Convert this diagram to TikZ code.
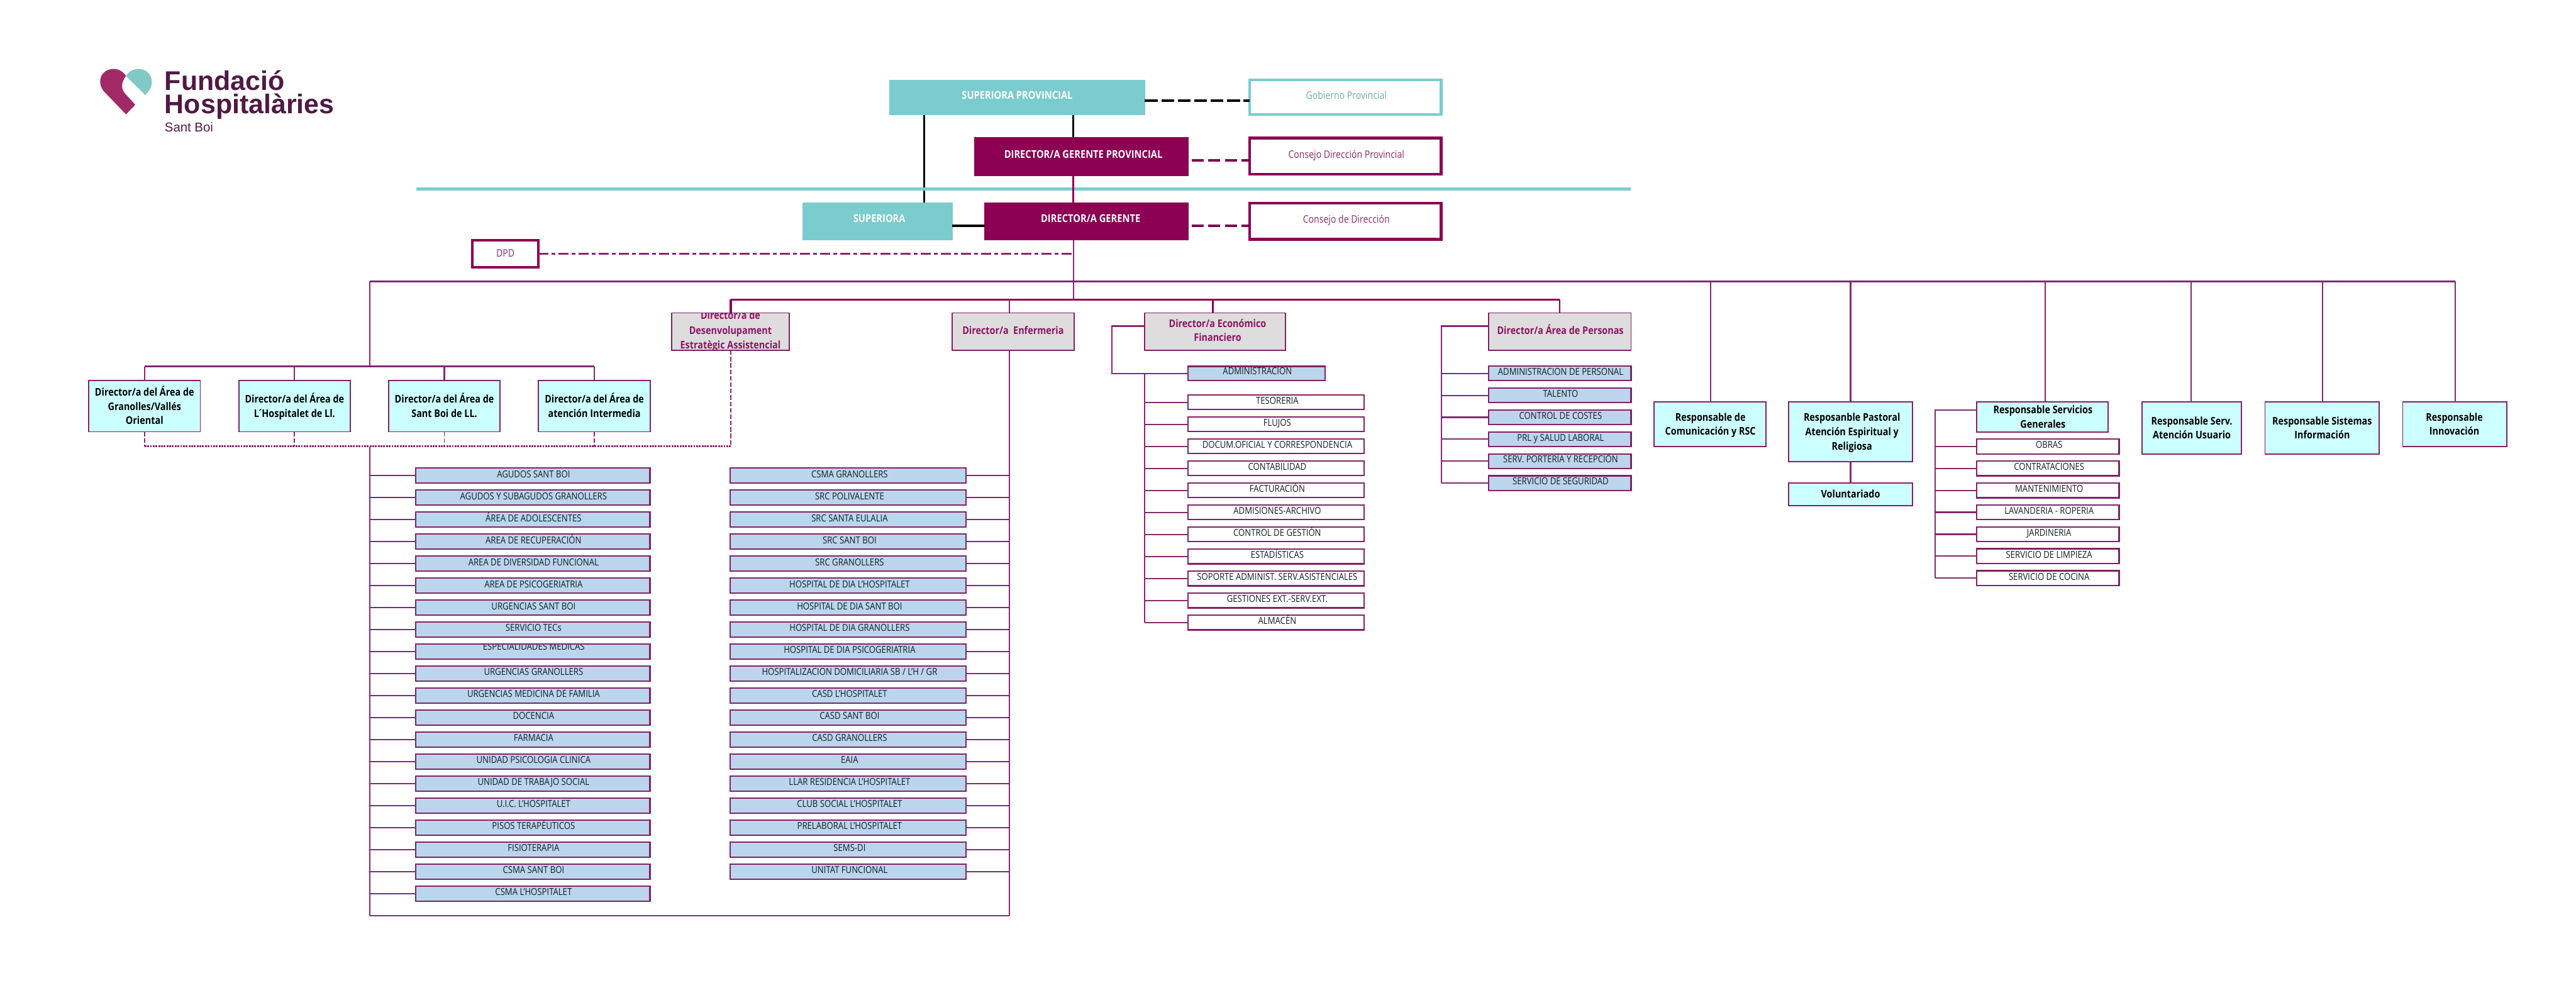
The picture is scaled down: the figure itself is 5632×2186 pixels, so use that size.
\documentclass[tikz,border=0pt]{standalone}
\usepackage{fontspec}
\setmainfont{Open Sans}[FakeStretch=0.86]
\newfontfamily\logofont{Liberation Sans}
\definecolor{tealb}{HTML}{7ACCCE}
\definecolor{crim}{HTML}{8B0052}
\definecolor{bord}{HTML}{802265}
\definecolor{conn}{HTML}{85296C}
\definecolor{cyanb}{HTML}{CCFFFF}
\definecolor{greyb}{HTML}{DEDCDD}
\definecolor{blueb}{HTML}{BBD5EC}
\definecolor{dirtxt}{HTML}{8B1560}
\definecolor{logotxt}{HTML}{4F1A44}
\definecolor{heartm}{HTML}{A12A66}
\definecolor{heartt}{HTML}{82C8C6}
\definecolor{rowtxt}{HTML}{141B26}
\newcommand{\bx}[7]{%
  \pgfmathsetmacro\cxx{(#3+#5)/2}\pgfmathsetmacro\cyy{(#4+#6)/2}%
  \pgfmathsetmacro\ww{#5-#3}\pgfmathsetmacro\hh{#6-#4}%
  \node[#1,minimum width=\ww pt,minimum height=\hh pt] (#2) at (\cxx,\cyy) {#7};}
% dx (right), up, lines
\newcommand{\lift}[3]{\hspace*{\dimexpr 2\dimexpr #1pt\relax\relax}\raisebox{\dimexpr #2pt-0.25em\relax}[0pt][0pt]{\begin{tabular}[c]{@{}c@{}}#3\end{tabular}}}
\tikzset{
  x=1pt,y=-1pt,
  basebox/.style={rectangle,draw,inner sep=0pt,outer sep=0pt},
  topteal/.style={basebox,fill=tealb,draw=tealb,line width=1pt,text=white,font=\fontsize{23.5}{31}\selectfont\bfseries},
  topcrim/.style={basebox,fill=crim,draw=crim,line width=1pt,text=white,font=\fontsize{23.5}{31}\selectfont\bfseries},
  council/.style={basebox,fill=white,draw=crim,line width=6pt,text=conn,font=\fontsize{22.5}{31}\selectfont},
  councilt/.style={council,draw=tealb,text=heartt!85!black},
  dpdbox/.style={council,line width=5pt,draw=crim},
  area/.style={basebox,fill=cyanb,draw=bord,line width=2.5pt,text=black,font=\fontsize{23}{31}\selectfont\bfseries},
  dirbox/.style={basebox,fill=greyb,draw=bord,line width=2.5pt,text=dirtxt,font=\fontsize{23}{31}\selectfont\bfseries},
  bluerow/.style={basebox,fill=blueb,draw=bord,line width=3pt,text=rowtxt,font=\fontsize{21}{31}\selectfont},
  whiterow/.style={basebox,fill=white,draw=bord,line width=3pt,text=rowtxt,font=\fontsize{21}{31}\selectfont},
  lnk/.style={draw=conn,line width=3pt},
  blk/.style={draw=black,line width=4pt},
  dashk/.style={draw=black,line width=6.5pt,dash pattern=on 28pt off 8pt},
  dashc/.style={draw=crim!90!black,line width=5.5pt,dash pattern=on 26pt off 10pt},
  dashdot/.style={draw=conn,line width=3.5pt,dash pattern=on 22pt off 7pt on 8pt off 7pt},
  dots/.style={draw=conn,line width=4pt,dash pattern=on 4pt off 2pt},
  thindash/.style={draw=conn,line width=2.5pt,dash pattern=on 10pt off 4pt},
  logotext/.style={anchor=base west,inner sep=0pt,text=logotxt},
}
\begin{document}
\begin{tikzpicture}
\useasboundingbox (0,0) rectangle (5632,2186);
\fill[white] (0,0) rectangle (5632,2186);
% logo
\fill[heartm] (248,150.7) .. controls (260,150.7) and (270,157) .. (275.4,166)
  .. controls (270,174) and (267,180) .. (267,187) .. controls (267,193) and (268,197) .. (272,203)
  -- (295.8,229) -- (275.4,250) -- (227.5,200)
  .. controls (222,193) and (219,187) .. (219,178) .. controls (219,162) and (232,150.7) .. (248,150.7) -- cycle;
\fill[heartt] (275.4,166) .. controls (281,156) and (292,150.7) .. (303,150.7)
  .. controls (320,150.7) and (332,163) .. (332,180) .. controls (332,190) and (326,199) .. (317.5,207.7) -- cycle;
\node[logotext,font=\logofont\fontsize{59}{59}\selectfont\bfseries] (logoa) at (360,196.7) {Fundació};
\node[logotext,font=\logofont\fontsize{59}{59}\selectfont\bfseries] (logob) at (360,247.7) {Hospitalàries};
\node[logotext,font=\logofont\fontsize{28}{28}\selectfont] (logoc) at (360,287.7) {Sant Boi};

% anchors for verticals and buses
\coordinate (vsup) at (2021,0);
\coordinate (vgen) at (2347,0);
\coordinate (busa) at (0,615);
\coordinate (busb) at (0,655);
\coordinate (vleft) at (808,0);
\coordinate (vright) at (2207,0);
\coordinate (dotb) at (0,976);
\coordinate (bottom) at (0,2002);
\coordinate (areabus) at (0,801);
\coordinate (vecon) at (2502.5,0);
\coordinate (vecona) at (2431,0);
\coordinate (vpers) at (3152,0);
\coordinate (vserv) at (4231,0);
\coordinate (vdes) at (1598,0);
\coordinate (veco) at (2652,0);
\coordinate (vper) at (3410,0);
\coordinate (busend) at (5368,0);
\coordinate (tealA) at (910,413);
\coordinate (tealB) at (3565,413);
\coordinate (dashstartA) at (2606,351);
\coordinate (dashstartB) at (2606,493.6);

% top boxes
\bx{topteal}{supprov}{1945}{175}{2503}{251}{\lift{0}{2.5}{SUPERIORA PROVINCIAL}}
\bx{councilt}{gob}{2732}{175}{3151}{250}{\lift{2}{3}{Gobierno Provincial}}
\bx{topcrim}{dirprov}{2131}{300}{2598}{384}{\lift{4}{1.5}{DIRECTOR/A GERENTE PROVINCIAL}}
\bx{council}{conprov}{2732}{302}{3151}{381}{\lift{2}{2}{Consejo Dirección Provincial}}
\bx{topteal}{superiora}{1755}{443}{2082}{525}{\lift{4}{3.5}{SUPERIORA}}
\bx{topcrim}{dirger}{2153}{443}{2598}{525}{\lift{9}{3.5}{DIRECTOR/A GERENTE}}
\bx{council}{condir}{2732}{444}{3151}{523}{\lift{2}{3}{Consejo de Dirección}}
\bx{dpdbox}{dpd}{1033}{525}{1177}{584}{\lift{0}{0}{DPD}}

% top connectors
\draw[blk] (vsup |- supprov.south) -- (vsup |- superiora.north);
\draw[blk] (vgen |- supprov.south) -- (vgen |- dirprov.north);
\draw[blk,line width=5pt] (superiora.east |- dashstartB) -- (dirger.west |- dashstartB);
\draw[dashk] (supprov.east |- 0,220) -- (gob.west |- 0,220);
\draw[dashc] (dashstartA) -- (conprov.west |- dashstartA);
\draw[dashc] (dashstartB) -- (condir.west |- dashstartB);
\draw[tealb,line width=7pt] (tealA) -- (tealB);
\draw[crim,line width=4pt] (vgen |- dirprov.south) -- (vgen |- dirger.north);
\draw[lnk] (vgen |- dirger.south) -- (vgen |- busb);
\draw[dashdot] (dpd.east |- 0,555) -- (vgen |- 0,555);

% directors row
\bx{dirbox}{dirdes}{1469}{684}{1726}{766}{\phantom{X}}
\bx{dirbox}{direnf}{2082}{684}{2348}{766}{\lift{0}{0.5}{Director/a\ \ Enfermeria}}
\bx{dirbox}{direco}{2503}{684}{2811}{766}{\lift{5}{0}{Director/a Económico\\Financiero}}
\bx{dirbox}{dirper}{3255}{684}{3566}{766}{\lift{1}{-0.5}{Director/a Área de Personas}}
\begin{scope}
\clip (dirdes.north west) rectangle (dirdes.south east);
\node[text=dirtxt,inner sep=0pt,font=\fontsize{23}{32}\selectfont\bfseries] (dirdestxt) at (1597,724) {\begin{tabular}{@{}c@{}}Director/a de\\Desenvolupament\\Estratègic Assistencial\end{tabular}};
\end{scope}
\draw[bord,line width=2.5pt] (dirdes.north west) rectangle (dirdes.south east);

% buses
\draw[lnk,line width=3.5pt] (vleft |- busa) -- (busend |- busa);
\draw[crim,line width=5pt] (vdes |- busb) -- (vper |- busb);
\draw[crim,line width=5pt] (vdes |- busb) -- (vdes |- dirdes.north);
\draw[lnk] (vright |- busb) -- (vright |- direnf.north);
\draw[crim,line width=4pt] (veco |- busb) -- (veco |- direco.north);
\draw[crim,line width=4pt] (vper |- busb) -- (vper |- dirper.north);

% area directors
\bx{area}{ar1}{194}{832}{438}{944}{\lift{0}{-3}{Director/a del Área de\\Granolles/Vallés\\Oriental}}
\bx{area}{ar2}{522}{832}{766}{944}{\lift{0}{-3}{Director/a del Área de\\L\kern-3pt´\kern-3pt Hospitalet de Ll.}}
\bx{area}{ar3}{850}{832}{1093}{944}{\lift{0}{-3}{Director/a del Área de\\Sant Boi de LL.}}
\bx{area}{ar4}{1177}{832}{1422}{944}{\lift{0}{-3}{Director/a del Área de\\atención Intermedia}}
\draw[lnk] (vleft |- busa) -- (vleft |- areabus);
\draw[lnk,line width=4pt] (ar1.north |- areabus) -- (ar4.north |- areabus);
\foreach \a in {ar1,ar2,ar3,ar4}{
  \draw[lnk] (\a.north |- areabus) -- (\a.north);
  \draw[thindash] (\a.south) -- (\a.south |- dotb);
}
\draw[dots] (ar1.south |- dotb) -- (vdes |- dotb);
\draw[thindash] (vdes |- dirdes.south) -- (vdes |- dotb);

% left and right lists
\draw[lnk] (vleft |- dotb) -- (vleft |- bottom);
\draw[lnk] (vright |- direnf.south) -- (vright |- bottom);
\draw[lnk] (vleft |- bottom) -- (vright |- bottom);
\foreach \i/\t in {1/{AGUDOS SANT BOI},2/{AGUDOS Y SUBAGUDOS GRANOLLERS},3/{ÁREA DE ADOLESCENTES},4/{AREA DE RECUPERACIÓN},5/{AREA DE DIVERSIDAD FUNCIONAL},6/{AREA DE PSICOGERIATRIA},7/{URGENCIAS SANT BOI},8/{SERVICIO TECs},10/{URGENCIAS GRANOLLERS},11/{URGENCIAS MEDICINA DE FAMILIA},12/{DOCENCIA},13/{FARMACIA},14/{UNIDAD PSICOLOGIA CLINICA},15/{UNIDAD DE TRABAJO SOCIAL},16/{U.I.C. L'HOSPITALET},17/{PISOS TERAPÉUTICOS},18/{FISIOTERAPIA},19/{CSMA SANT BOI},20/{CSMA L'HOSPITALET}}{
  \pgfmathsetmacro\yy{1040+48.1*(\i-1)}
  \node[bluerow,minimum width=512pt,minimum height=33pt] (la\i) at (1165,\yy) {\lift{1.5}{2.5}{\t}};
  \draw[lnk] (vleft |- la\i.west) -- (la\i.west);
}
\bx{bluerow}{la9}{909}{1408}{1421}{1441}{\phantom{X}}
\begin{scope}
\clip (la9.north west) rectangle (la9.south east);
\node[text=rowtxt,inner sep=0pt,font=\fontsize{21}{31}\selectfont] (la9txt) at (1167,1413) {ESPECIALIDADES MEDICAS};
\end{scope}
\draw[bord,line width=3pt] (la9.north west) rectangle (la9.south east);
\draw[lnk] (vleft |- la9.west) -- (la9.west);

\foreach \i/\t in {1/{CSMA GRANOLLERS},2/{SRC POLIVALENTE},3/{SRC SANTA EULALIA},4/{SRC SANT BOI},5/{SRC GRANOLLERS},6/{HOSPITAL DE DIA L'HOSPITALET},7/{HOSPITAL DE DIA SANT BOI},8/{HOSPITAL DE DIA GRANOLLERS},9/{HOSPITAL DE DIA PSICOGERIATRIA},10/{HOSPITALIZACION DOMICILIARIA SB / L'H / GR},11/{CASD L'HOSPITALET},12/{CASD SANT BOI},13/{CASD GRANOLLERS},14/{EAIA},15/{LLAR RESIDENCIA L'HOSPITALET},16/{CLUB SOCIAL L'HOSPITALET},17/{PRELABORAL L'HOSPITALET},18/{SEMS-DI},19/{UNITAT FUNCIONAL}}{
  \pgfmathsetmacro\yy{1040+48.1*(\i-1)}
  \node[bluerow,minimum width=516pt,minimum height=33pt] (lb\i) at (1854,\yy) {\lift{3.5}{2.5}{\t}};
  \draw[lnk] (lb\i.east) -- (vright |- lb\i.east);
}

% economic
\coordinate (ecoleft) at (0,713);
\bx{bluerow}{ecoadm}{2597}{801}{2897}{832}{\lift{2}{3.5}{ADMINISTRACION}}
\draw[lnk] (direco.west |- ecoleft) -- (vecona |- ecoleft) -- (vecona |- ecoadm.west) -- (ecoadm.west);
\foreach \i/\t in {1/{TESORERIA},2/{FLUJOS},3/{DOCUM.OFICIAL Y CORRESPONDENCIA},4/{CONTABILIDAD},5/{FACTURACIÓN},6/{ADMISIONES-ARCHIVO},7/{CONTROL DE GESTIÓN},8/{ESTADÍSTICAS},9/{SOPORTE ADMINIST. SERV.ASISTENCIALES},10/{GESTIONES EXT.-SERV.EXT.},11/{ALMACÉN}}{
  \pgfmathsetmacro\yy{879.5+48.15*(\i-1)}
  \node[whiterow,minimum width=385pt,minimum height=32pt] (ec\i) at (2789.5,\yy) {\lift{3}{2.5}{\t}};
  \draw[lnk] (vecon |- ec\i.west) -- (ec\i.west);
}
\draw[lnk] (vecon |- ecoadm.west) -- (vecon |- ec11.west);

% personas
\foreach \i/\t in {1/{ADMINISTRACION DE PERSONAL},2/{TALENTO},3/{CONTROL DE COSTES},4/{PRL y SALUD LABORAL},5/{SERV. PORTERÍA Y RECEPCIÓN},6/{SERVICIO DE SEGURIDAD}}{
  \pgfmathsetmacro\yy{816.4+47.95*(\i-1)}
  \node[bluerow,minimum width=311pt,minimum height=32pt] (pe\i) at (3410.5,\yy) {\lift{1.5}{2.5}{\t}};
  \draw[lnk] (vpers |- pe\i.west) -- (pe\i.west);
}
\draw[lnk] (dirper.west |- ecoleft) -- (vpers |- ecoleft) -- (vpers |- pe6.west);

% right-hand boxes
\bx{area}{rcom}{3616}{879}{3861}{976.5}{\lift{1}{-2.5}{Responsable de\\Comunicación y RSC}}
\bx{area}{rpas}{3911}{879}{4181}{1009}{\lift{3}{-2.5}{Resposanble Pastoral\\Atención Espiritual y\\Religiosa}}
\bx{area}{rvol}{3911}{1056}{4181}{1105}{\lift{0}{-2.5}{Voluntariado}}
\bx{area}{rser}{4322}{879}{4609}{945}{\lift{1}{-2.5}{Responsable Servicios\\Generales}}
\bx{area}{rate}{4683}{879}{4901}{993}{\lift{0}{-2.5}{Responsable Serv.\\Atención Usuario}}
\bx{area}{rsis}{4952}{879}{5202}{993}{\lift{0}{-2.5}{Responsable Sistemas\\Información}}
\bx{area}{rinn}{5253}{879}{5481}{976.5}{\lift{-1}{-2.5}{Responsable\\Innovación}}
\foreach \a/\x in {rcom/3740,rpas/4046,rser/4472,rate/4791,rsis/5078,rinn/5368}{
  \draw[lnk] (\x,0 |- busa) -- (\x,0 |- \a.north);
}
\draw[lnk] (4046,0 |- rpas.south) -- (4046,0 |- rvol.north);
\foreach \i/\t in {1/{OBRAS},2/{CONTRATACIONES},3/{MANTENIMIENTO},4/{LAVANDERIA - ROPERIA},5/{JARDINERIA},6/{SERVICIO DE LIMPIEZA},7/{SERVICIO DE COCINA}}{
  \pgfmathsetmacro\yy{976+48*(\i-1)}
  \node[whiterow,minimum width=311pt,minimum height=32.6pt] (sv\i) at (4477.5,\yy) {\lift{2.5}{2.5}{\t}};
  \draw[lnk] (vserv |- sv\i.west) -- (sv\i.west);
}
\draw[lnk] (rser.west |- 0,896) -- (vserv |- 0,896) -- (vserv |- sv7.west);
\end{tikzpicture}
\end{document}
